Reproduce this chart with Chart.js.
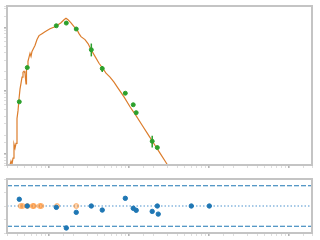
<!DOCTYPE html>
<html lang="en">
<head>
<meta charset="UTF-8">
<title>SED fit with residuals</title>
<script src="https://cdn.jsdelivr.net/npm/chart.js@4"></script>
<style>
  html, body { margin: 0; padding: 0; background: #fff; }
  #wrap { position: relative; width: 320px; height: 240px; }
  canvas { position: absolute; left: 0; }
</style>
</head>
<body>
<div id="wrap">
  <canvas id="sed" width="320" height="170" style="top:0"></canvas>
  <canvas id="resid" width="320" height="67" style="top:173px"></canvas>
</div>
<script>
// axis limits (log wavelength, log flux)
const xMin = 0.2985, xMax = 1939;
const yMin = 0.673, yMax = 220.6;

// model spectrum
const modelX = [0.3255, 0.335, 0.345, 0.355, 0.365, 0.376, 0.387, 0.398, 0.410, 0.422,
  0.434, 0.447, 0.460, 0.473, 0.487, 0.501, 0.516, 0.523, 0.531, 0.546,
  0.562, 0.579, 0.596, 0.613, 0.649, 0.668, 0.708, 0.750, 0.818, 0.891,
  1.029, 1.189, 1.296, 1.413, 1.540, 1.631, 1.728, 1.884, 2.054, 2.239,
  2.371, 2.512, 2.818, 3.073, 3.350, 3.758, 4.217, 4.597, 5.158, 5.788,
  6.494, 7.286, 8.660, 10.29, 12.24, 14.54, 17.28, 20.54, 24.41, 29.0, 32.5];
const modelY = [0.673, 0.778, 0.698, 0.866, 1.433, 1.241, 1.485, 3.65, 4.87, 7.50,
  10.7, 13.3, 16.5, 19.8, 20.5, 19.1, 12.9, 22.1, 23.7, 29.4,
  34.0, 39.3, 35.2, 42.2, 48.7, 52.3, 64.9, 75.0, 80.6, 86.6,
  96.5, 103.7, 111.4, 119.7, 133.4, 140.7, 133.4, 119.7, 103.7, 93.1,
  80.6, 72.3, 64.9, 56.2, 45.3, 35.2, 27.4, 23.7, 19.1, 16.5,
  13.8, 11.1, 8.06, 5.62, 4.07, 2.89, 2.05, 1.46, 1.036, 0.737, 0.583];

// photometry
const photX  = [0.425, 0.535, 1.234, 1.645, 2.19, 3.38, 4.63, 8.99, 11.3, 12.3, 19.5, 22.6];
const photY  = [6.73, 23.4, 107.4, 118.4, 95.4, 44.8, 22.6, 9.2, 6.04, 4.53, 1.60, 1.27];
const photLo = [null, null, null, null, null, 35.2, 20.0, null, null, null, 1.27, null];
const photHi = [null, null, null, null, null, 56.2, 24.8, null, null, null, 1.96, null];

// residuals
const resX = [0.425, 0.535, 1.234, 1.645, 2.19, 3.38, 4.63, 8.99, 11.3, 12.3, 19.5, 22.6, 23.2, 60.1, 100.9];
const resY = [0.5, 0.0, -0.1, -1.63, -0.47, 0.0, -0.3, 0.57, -0.17, -0.32, -0.4, 0.0, -0.6, 0.0, 0.0];
const maskedX = [0.443, 0.469, 0.535, 0.625, 0.649, 0.765, 0.801, 1.259, 2.19];
const maskedY = [0, 0, 0, 0, 0, 0, 0, 0, 0];
const resLimit = 1.5;

const pts = (xs, ys) => xs.map((x, i) => ({x: x, y: ys[i]}));

const framePlugin = {
  id: 'frame',
  afterDraw(chart) {
    const {ctx, chartArea: a} = chart;
    ctx.save();
    ctx.strokeStyle = '#c4c4c4';
    ctx.lineWidth = 2;
    ctx.strokeRect(a.left, a.top, a.right - a.left, a.bottom - a.top);
    ctx.restore();
  }
};

const errorBars = {
  id: 'errorBars',
  afterDatasetsDraw(chart) {
    const sx = chart.scales.x, sy = chart.scales.y, ctx = chart.ctx;
    ctx.save();
    ctx.strokeStyle = '#2ca02c';
    ctx.lineWidth = 1.5;
    photX.forEach((v, i) => {
      if (photLo[i] == null) return;
      const px = sx.getPixelForValue(v);
      ctx.beginPath();
      ctx.moveTo(px, sy.getPixelForValue(photLo[i]));
      ctx.lineTo(px, sy.getPixelForValue(photHi[i]));
      ctx.stroke();
    });
    ctx.restore();
  }
};

function axis(type, min, max, extra) {
  return Object.assign({
    type: type, min: min, max: max,
    border: {display: false},
    grid: {
      drawOnChartArea: false, drawTicks: true, tickLength: 3,
      color: c => (c.tick && c.tick.major) ? '#b5b5b5' : '#d6d6d6',
      lineWidth: c => (c.tick && c.tick.major) ? 1.6 : 0.8
    },
    ticks: {display: false, major: {enabled: true}}
  }, extra || {});
}

const common = {
  responsive: false,
  animation: false,
  devicePixelRatio: 1,
  plugins: {legend: {display: false}, tooltip: {enabled: false}}
};

new Chart(document.getElementById('sed'), {
  type: 'scatter',
  data: {
    datasets: [
      {data: pts(photX, photY), backgroundColor: '#2ca02c', borderColor: '#2ca02c', pointRadius: 2},
      {data: pts(modelX, modelY), showLine: true, borderColor: '#dc7d2c', borderWidth: 1.2, pointRadius: 0}
    ]
  },
  options: Object.assign({}, common, {
    layout: {padding: {left: 4, top: 6, right: 8, bottom: 0}},
    scales: {
      x: axis('logarithmic', xMin, xMax),
      y: axis('logarithmic', yMin, yMax)
    }
  }),
  plugins: [errorBars, framePlugin]
});

new Chart(document.getElementById('resid'), {
  type: 'scatter',
  data: {
    datasets: [
      {data: pts(resX, resY), backgroundColor: '#1f77b4', borderColor: '#1f77b4', pointRadius: 2.2},
      {data: pts(maskedX, maskedY), backgroundColor: 'rgba(255,127,14,0.35)', borderColor: 'rgba(255,127,14,0.45)', pointRadius: 2.5},
      {data: [{x: xMin, y: 0}, {x: xMax, y: 0}], showLine: true, borderColor: '#4f94cd', borderWidth: 1.2, borderDash: [1.5, 2], pointRadius: 0},
      {data: [{x: xMin, y: resLimit}, {x: xMax, y: resLimit}], showLine: true, borderColor: '#1f77b4', borderWidth: 1.2, borderDash: [5, 2], pointRadius: 0},
      {data: [{x: xMin, y: -resLimit}, {x: xMax, y: -resLimit}], showLine: true, borderColor: '#1f77b4', borderWidth: 1.2, borderDash: [5, 2], pointRadius: 0}
    ]
  },
  options: Object.assign({}, common, {
    layout: {padding: {left: 4, top: 6, right: 8, bottom: 4}},
    scales: {
      x: axis('logarithmic', xMin, xMax),
      y: axis('linear', -2, 2, {ticks: {display: false, stepSize: 1}})
    }
  }),
  plugins: [framePlugin]
});
</script>
</body>
</html>
